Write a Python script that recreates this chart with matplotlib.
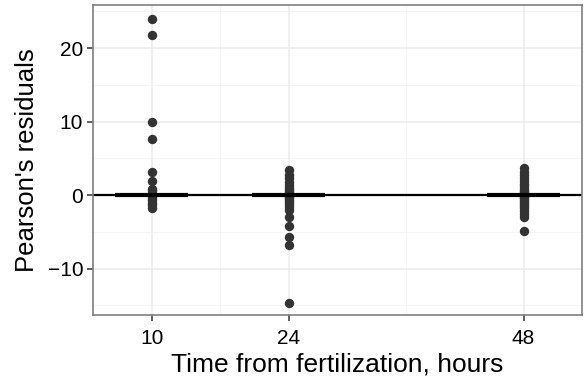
import matplotlib.pyplot as plt
import numpy as np

plt.rcParams['font.family'] = ['Liberation Sans', 'DejaVu Sans']

# Pearson residuals per sampling time
hours = [10, 24, 48]
res_10 = [23.9, 21.8, 10.0, 7.6, 3.1, 1.9, 0.9, 0.5, 0.2, -0.1, -0.4, -0.7, -1.0, -1.3, -1.8]
res_24 = [3.4, 2.8, 2.3, 1.8, 1.4, 1.0, 0.7, 0.4, 0.2, 0.0, -0.2, -0.4, -0.6, -0.9,
          -1.2, -1.6, -2.0, -3.0, -4.2, -5.7, -6.8, -14.6]
res_48 = [3.7, 3.2, 2.7, 2.3, 1.9, 1.5, 1.2, 0.9, 0.6, 0.4, 0.2, 0.0, -0.2, -0.4,
          -0.6, -0.9, -1.2, -1.5, -1.8, -2.2, -2.6, -3.0, -4.9]
medians = [0.0, 0.0, 0.0]

fig = plt.figure(figsize=(5.84, 3.87), dpi=100)
ax = fig.add_axes([0.159, 0.186, 0.838, 0.800])

# grid like theme_bw
for v in [17, 36]:
    ax.axvline(v, color='#F2F2F2', lw=0.6, zorder=0)
for v in hours:
    ax.axvline(v, color='#EBEBEB', lw=1.1, zorder=0)
for v in [-15, -5, 5, 15, 25]:
    ax.axhline(v, color='#F2F2F2', lw=0.6, zorder=0)
for v in [-10, 0, 10, 20]:
    ax.axhline(v, color='#EBEBEB', lw=1.1, zorder=0)

ax.axhline(0, color='black', lw=1.6, zorder=2)

for h, r in zip(hours, [res_10, res_24, res_48]):
    ax.scatter(np.full(len(r), h), r, s=46, color='#333333', lw=0, zorder=3)

# median crossbars
for h, m in zip(hours, medians):
    ax.plot([h - 3.7, h + 3.7], [m, m], color='black', lw=3.0,
            solid_capstyle='butt', zorder=4)

ax.set_xlim(4, 54)
ax.set_ylim(-16.3, 25.8)
ax.set_xticks(hours)
ax.set_yticks([-10, 0, 10, 20])
ax.tick_params(direction='out', length=4, width=1.1, color='#333333',
               labelsize=15, labelcolor='black', pad=3)
ax.tick_params(axis='x', pad=6)
for s in ax.spines.values():
    s.set_color('#7F7F7F')
    s.set_linewidth(1.2)

ax.set_xlabel('Time from fertilization, hours', fontsize=19, labelpad=3)
ax.set_ylabel("Pearson's residuals", fontsize=18.5, labelpad=6)

plt.savefig('out.png', dpi=100)
